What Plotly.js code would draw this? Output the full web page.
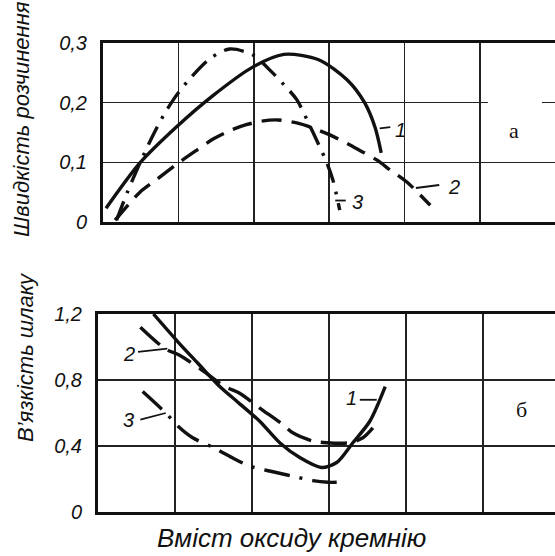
<!DOCTYPE html>
<html><head><meta charset="utf-8">
<script src="https://cdn.plot.ly/plotly-3.0.1.min.js"></script>
<style>html,body{margin:0;padding:0;background:#fff}#chart{width:555px;height:556px}</style>
</head><body><div id="chart"></div>
<script>
// ---- Panel a: dissolution rate vs SiO2 content (x in grid divisions) ----
const rateX1 = [0.04, 0.49, 0.98, 1.45, 1.99, 2.40, 2.86, 3.24, 3.47, 3.61, 3.69];
const rateY1 = [0.023, 0.099, 0.160, 0.211, 0.260, 0.281, 0.272, 0.238, 0.200, 0.158, 0.116];
const rateX2 = [0.16, 0.49, 0.72, 1.00, 1.25, 1.46, 1.68, 1.90, 2.10, 2.32, 2.57, 2.75, 3.01, 3.32, 3.63, 3.81, 4.03, 4.34];
const rateY2 = [0.003, 0.050, 0.072, 0.099, 0.121, 0.139, 0.153, 0.163, 0.169, 0.171, 0.166, 0.159, 0.146, 0.126, 0.104, 0.087, 0.067, 0.028];
const rateX3 = [0.18, 0.32, 0.49, 0.65, 0.80, 0.95, 1.15, 1.42, 1.68, 1.99, 2.21, 2.40, 2.57, 2.74, 2.86, 2.97, 3.05, 3.14];
const rateY3 = [0.003, 0.049, 0.099, 0.142, 0.178, 0.208, 0.240, 0.274, 0.290, 0.280, 0.255, 0.230, 0.205, 0.162, 0.130, 0.099, 0.070, 0.020];
const rateTickVals = [0, 0.1, 0.2, 0.3];
const rateTickText = ['0', '0,1', '0,2', '0,3'];

// ---- Panel б: slag viscosity vs SiO2 content ----
const viscX1 = [0.72, 1.04, 1.30, 1.56, 1.83, 2.10, 2.36, 2.62, 2.90, 3.10, 3.31, 3.53, 3.73];
const viscY1 = [1.20, 1.03, 0.90, 0.77, 0.66, 0.55, 0.42, 0.33, 0.27, 0.30, 0.42, 0.55, 0.76];
const viscX2 = [0.55, 0.87, 1.06, 1.35, 1.65, 1.84, 2.10, 2.40, 2.53, 2.79, 2.97, 3.27, 3.44, 3.57];
const viscY2 = [1.12, 0.99, 0.95, 0.86, 0.76, 0.72, 0.63, 0.53, 0.48, 0.43, 0.42, 0.42, 0.45, 0.51];
const viscX3 = [0.58, 0.88, 1.04, 1.23, 1.50, 1.74, 1.96, 2.21, 2.50, 2.79, 2.99, 3.10];
const viscY3 = [0.73, 0.60, 0.52, 0.45, 0.39, 0.33, 0.28, 0.25, 0.22, 0.19, 0.18, 0.18];
const viscTickVals = [0, 0.4, 0.8, 1.2];
const viscTickText = ['0', '0,4', '0,8', '1,2'];

const curveNames = ['1', '2', '3'];
const yTitleTop = 'Швидкість розчинення';
const yTitleBottom = 'В\u2019язкість шлаку';
const xTitle = 'Вміст оксиду кремнію';
const panelLabels = ['а', 'б'];

const ink = '#111';
const solid = {color: ink, width: 3.4, shape: 'spline', smoothing: 0.8};
function ln(dash) { return Object.assign({}, solid, {dash: dash}); }

const traces = [
  {x: rateX1, y: rateY1, xaxis: 'x', yaxis: 'y', mode: 'lines', name: curveNames[0], line: ln('solid')},
  {x: rateX2, y: rateY2, xaxis: 'x', yaxis: 'y', mode: 'lines', name: curveNames[1], line: ln('20px,10px')},
  {x: rateX3, y: rateY3, xaxis: 'x', yaxis: 'y', mode: 'lines', name: curveNames[2], line: ln('20px,9px,3px,9px')},
  {x: viscX1, y: viscY1, xaxis: 'x2', yaxis: 'y2', mode: 'lines', name: curveNames[0], line: ln('solid')},
  {x: viscX2, y: viscY2, xaxis: 'x2', yaxis: 'y2', mode: 'lines', name: curveNames[1], line: ln('26px,10px')},
  {x: viscX3, y: viscY3, xaxis: 'x2', yaxis: 'y2', mode: 'lines', name: curveNames[2], line: ln('26px,10px,3px,10px')}
];

const W = 555, H = 556;
const sans = 'Liberation Sans, Arial, sans-serif';
const tickFont = {family: sans, size: 20, color: ink, style: 'italic'};
function xa(left, range, anchor) {
  return {domain: [left / W, 1], range: range, anchor: anchor, dtick: 1, tick0: 0,
    showticklabels: false, ticks: '', showgrid: true, gridcolor: '#222', gridwidth: 1.6,
    zeroline: false, showline: true, linecolor: ink, linewidth: 3, mirror: true, fixedrange: true};
}
function ya(top, bottom, range, vals, text, anchor) {
  return {domain: [1 - bottom / H, 1 - top / H], range: range, anchor: anchor,
    tickmode: 'array', tickvals: vals, ticktext: text, ticks: '', tickfont: tickFont,
    ticklabelstandoff: 9, showgrid: true, gridcolor: '#222', gridwidth: 1.6,
    zeroline: false, showline: true, linecolor: ink, linewidth: 3, mirror: false, fixedrange: true};
}

const labelFont = {family: sans, size: 20, color: ink, style: 'italic'};
function lab(text, x, y, xref, yref) {
  return {text: text, x: x, y: y, xref: xref, yref: yref, showarrow: false, font: labelFont, xanchor: 'left', yanchor: 'middle'};
}
function tick(x0, y0, x1, y1, xref, yref) {
  return {type: 'line', x0: x0, y0: y0, x1: x1, y1: y1, xref: xref, yref: yref, line: {color: ink, width: 1.8}};
}
function txt(text, px, py, font, angle) {
  return {text: text, x: px / W, y: 1 - py / H, xref: 'paper', yref: 'paper', showarrow: false,
    xanchor: 'center', yanchor: 'middle', textangle: angle || 0, font: font};
}

const layout = {
  width: W, height: H, margin: {l: 0, r: 0, t: 0, b: 0},
  paper_bgcolor: '#fff', plot_bgcolor: '#fff', showlegend: false,
  xaxis: xa(103, [0, 5.995], 'y'),
  yaxis: ya(43, 222, [0, 0.3], rateTickVals, rateTickText, 'x'),
  xaxis2: xa(98, [0, 5.935], 'y2'),
  yaxis2: ya(314, 512, [0, 1.2], viscTickVals, viscTickText, 'x2'),
  shapes: [
    {type: 'rect', xref: 'paper', yref: 'paper', x0: 488 / W, x1: 542 / W, y0: 1 - 107 / H, y1: 1 - 97 / H,
     fillcolor: '#fff', line: {width: 0}, layer: 'above'},
    tick(3.67, 0.157, 3.81, 0.159, 'x', 'y'),
    tick(4.15, 0.057, 4.46, 0.062, 'x', 'y'),
    tick(3.08, 0.036, 3.22, 0.036, 'x', 'y'),
    tick(3.40, 0.68, 3.62, 0.68, 'x2', 'y2'),
    tick(0.52, 0.97, 0.90, 0.99, 'x2', 'y2'),
    tick(0.55, 0.56, 0.88, 0.60, 'x2', 'y2')
  ],
  annotations: [
    lab(curveNames[0], 3.85, 0.155, 'x', 'y'),
    lab(curveNames[1], 4.55, 0.058, 'x', 'y'),
    lab(curveNames[2], 3.28, 0.033, 'x', 'y'),
    lab(curveNames[0], 3.20, 0.69, 'x2', 'y2'),
    lab(curveNames[1], 0.30, 0.96, 'x2', 'y2'),
    lab(curveNames[2], 0.30, 0.56, 'x2', 'y2'),
    txt(yTitleTop, 21, 119, {family: sans, size: 22, color: ink, style: 'italic'}, -90),
    txt(yTitleBottom, 25, 357, {family: sans, size: 22, color: ink, style: 'italic'}, -90),
    txt(xTitle, 291, 538, {family: sans, size: 26, color: ink, style: 'italic'}),
    txt(panelLabels[0], 514, 130, {family: 'Liberation Serif, Times New Roman, serif', size: 22, color: ink}),
    txt(panelLabels[1], 521, 409, {family: 'Liberation Serif, Times New Roman, serif', size: 22, color: ink})
  ]
};

Plotly.newPlot('chart', traces, layout, {staticPlot: true, displayModeBar: false});
</script>
</body></html>
